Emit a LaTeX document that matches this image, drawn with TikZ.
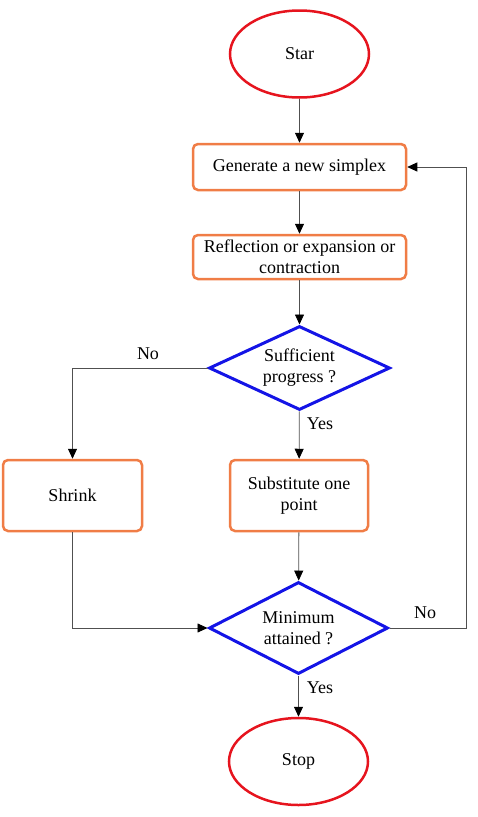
\documentclass[tikz,border=0pt]{standalone}
\usepackage{fontspec}
\setmainfont{Liberation Serif}
\usetikzlibrary{shapes.geometric,arrows.meta}
\definecolor{cred}{RGB}{230,20,30}
\definecolor{corange}{RGB}{240,125,70}
\definecolor{cblue}{RGB}{20,20,230}
\definecolor{cline}{RGB}{80,80,80}
\begin{document}
\begin{tikzpicture}[x=1pt,y=-1pt,
 every node/.style={font=\fontsize{18}{21}\selectfont},
 term/.style={ellipse,draw=cred,line width=2.5pt,minimum width=139pt,minimum height=87pt,inner sep=0},
 proc/.style={rectangle,rounded corners=5pt,draw=corange,line width=2.5pt,align=center,inner sep=0},
 dec/.style={diamond,draw=cblue,line width=3pt,align=center,inner sep=0},
 conn/.style={draw=cline,line width=0.8pt,-{Triangle[length=10pt,width=9pt,black]}},
 lbl/.style={inner sep=0}]
\useasboundingbox (0,0) rectangle (477,817);
\node[term] (star) at (299.5,54) {Star};
\node[proc,minimum width=213pt,minimum height=46pt] (gen) at (299.5,167) {Generate a new simplex};
\node[proc,minimum width=213pt,minimum height=44pt] (refl) at (299.5,257) {Reflection or expansion or\\contraction};
\node[dec,aspect=2.15,minimum width=181pt,minimum height=84pt] (suff) at (299.5,368) {Sufficient\\progress ?};
\node[proc,minimum width=139pt,minimum height=71pt] (shr) at (72.5,495.5) {Shrink};
\node[proc,minimum width=138pt,minimum height=71pt] (sub) at (299,495.5) {Substitute one\\point};
\node[dec,aspect=1.93,minimum width=179pt,minimum height=92pt] (min) at (298.5,628) {Minimum\\attained ?};
\node[term] (stop) at (298.5,761.5) {Stop};
\coordinate (rt) at (466,167);
\draw[conn] (star) -- (gen);
\draw[conn] (gen) -- (refl);
\draw[conn] (refl) -- (suff);
\draw[conn] (suff.west) -| (shr.north);
\draw[conn] (suff) -- (sub);
\draw[conn] (sub) -- (min);
\draw[conn] (shr.south) |- (min.west);
\draw[conn] (min.east) -| (rt) -- (gen.east);
\draw[conn] (min) -- (stop);
\node[lbl] (l1) at (148,354) {No};
\node[lbl] (l2) at (320,424) {Yes};
\node[lbl] (l3) at (425,613) {No};
\node[lbl] (l4) at (320,688) {Yes};
\end{tikzpicture}
\end{document}
